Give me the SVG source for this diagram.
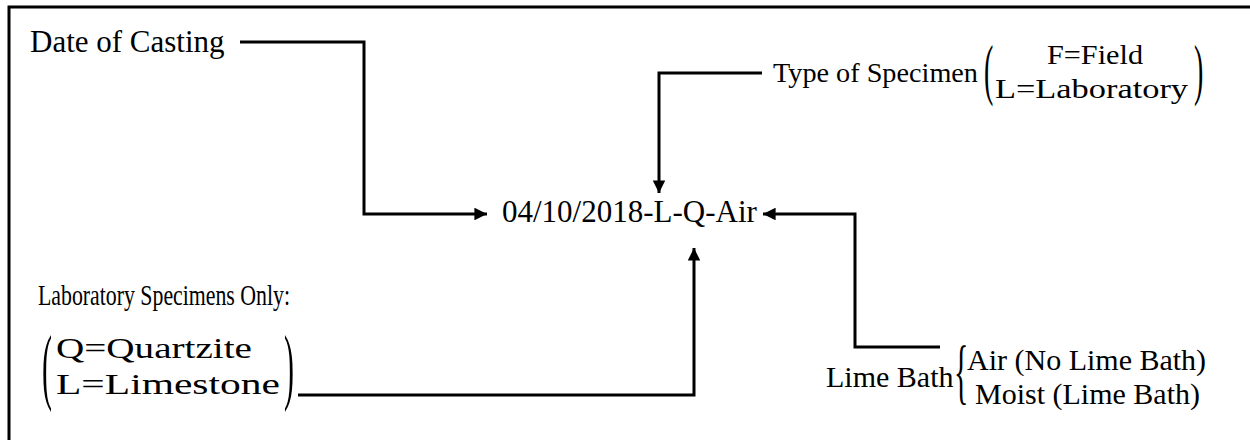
<svg xmlns="http://www.w3.org/2000/svg" width="1250" height="440" viewBox="0 0 1250 440">
<defs>
<marker id="ah" viewBox="0 0 10 10" refX="10" refY="5" markerWidth="4.7" markerHeight="4.2" markerUnits="strokeWidth" orient="auto">
<path d="M0,0 L10,5 L0,10 z" fill="#000"/>
</marker>
<style>
.c{fill:none;stroke:#000;stroke-width:3}
</style>
</defs>
<rect width="1250" height="440" fill="#fff"/>
<path d="M9,440 V7 H1250" fill="none" stroke="#000" stroke-width="3"/>
<g id="connectors">
<path class="c" d="M240,42 H364 V214 H487" marker-end="url(#ah)"/>
<path class="c" d="M762,73 H659 V193" marker-end="url(#ah)"/>
<path class="c" d="M940,347 H855 V214 H763" marker-end="url(#ah)"/>
<path class="c" d="M298,395 H694 V248" marker-end="url(#ah)"/>
</g>
<g id="date">
<text x="30" y="52" font-family="Liberation Serif" font-size="31">Date of Casting</text>
</g>
<g id="code">
<text x="502" y="222" font-family="Liberation Serif" font-size="31">04/10/2018-L-Q-Air</text>
</g>
<g id="type">
<text x="773" y="82" font-family="Liberation Serif" font-size="28" textLength="205" lengthAdjust="spacingAndGlyphs">Type of Specimen</text>
<text transform="translate(984,75) scale(1,2.45)" y="7" font-family="Liberation Serif" font-size="28">(</text>
<text x="1095" y="64" text-anchor="middle" font-family="Liberation Serif" font-size="28" textLength="96" lengthAdjust="spacingAndGlyphs">F=Field</text>
<text x="995" y="98" font-family="Liberation Serif" font-size="28" textLength="193" lengthAdjust="spacingAndGlyphs">L=Laboratory</text>
<text transform="translate(1194,75) scale(1,2.45)" y="7" font-family="Liberation Serif" font-size="28">)</text>
</g>
<g id="lab">
<text x="38" y="305" font-family="Liberation Serif" font-size="30" textLength="252" lengthAdjust="spacingAndGlyphs">Laboratory Specimens Only:</text>
<text transform="translate(42,373) scale(1,2.8)" y="7.5" font-family="Liberation Serif" font-size="30">(</text>
<text x="56" y="358" font-family="Liberation Serif" font-size="29" textLength="196" lengthAdjust="spacingAndGlyphs">Q=Quartzite</text>
<text x="56" y="394" font-family="Liberation Serif" font-size="29" textLength="224" lengthAdjust="spacingAndGlyphs">L=Limestone</text>
<text transform="translate(284,373) scale(1,2.8)" y="7.5" font-family="Liberation Serif" font-size="30">)</text>
</g>
<g id="lime">
<text x="826" y="387" font-family="Liberation Serif" font-size="30">Lime Bath</text>
<text transform="translate(954,377) scale(1,2.4)" y="7.5" font-family="Liberation Serif" font-size="30">{</text>
<text x="967" y="370" font-family="Liberation Serif" font-size="30">Air (No Lime Bath)</text>
<text x="975" y="404" font-family="Liberation Serif" font-size="30">Moist (Lime Bath)</text>
</g>
</svg>
